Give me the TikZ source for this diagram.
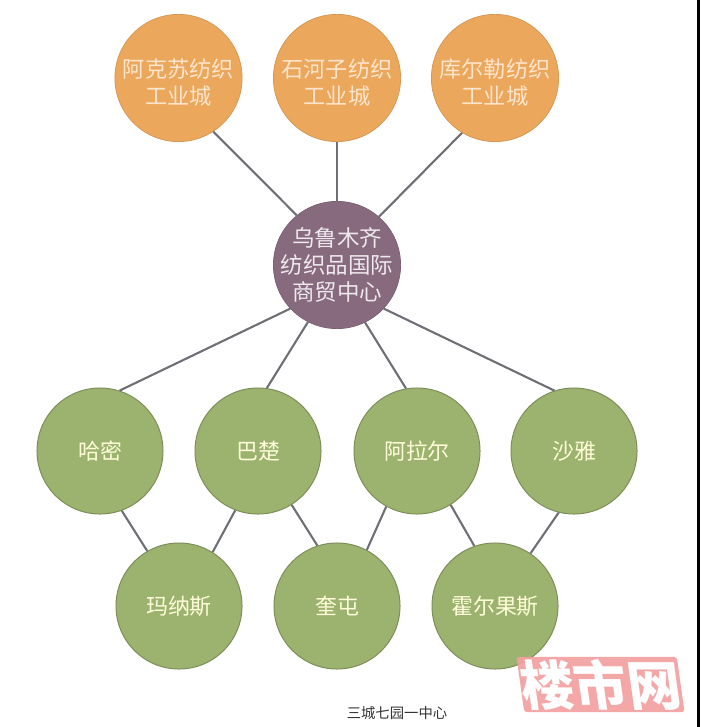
\documentclass[tikz,border=0pt]{standalone}
\usepackage{fontspec}
\newfontfamily\cjk{Noto Sans CJK SC}
\definecolor{cityorange}{HTML}{EBA75C}
\definecolor{hubpurple}{HTML}{876A7E}
\definecolor{parkgreen}{HTML}{9CB26F}
\definecolor{linkgrey}{HTML}{6E7076}
\definecolor{stamppink}{HTML}{F3A0A0}
\tikzset{
  city/.style={circle,draw=cityorange!90!black,fill=cityorange,line width=0.5pt,minimum size=3.18cm,inner sep=-0.8cm,align=center,text=white!80!orange,font=\cjk\fontsize{15.8}{19}\selectfont},
  hub/.style={circle,draw=hubpurple!90!black,fill=hubpurple,line width=0.5pt,minimum size=3.18cm,inner sep=-0.8cm,align=center,text=white!85!hubpurple,font=\cjk\fontsize{16}{19.2}\selectfont},
  park/.style={circle,draw=parkgreen!80!black,fill=parkgreen,line width=0.7pt,minimum size=3.15cm,inner sep=-0.8cm,align=center,text=white!85!yellow,font=\cjk\fontsize{15.6}{19}\selectfont},
  link/.style={draw=linkgrey,line width=1.5pt},
  caption/.style={font=\cjk\fontsize{10.2}{12}\selectfont,text=black!80},
  stamp/.style={fill=stamppink,fill opacity=0.92,text opacity=1,text=white,rounded corners=2pt,minimum width=3.95cm,minimum height=1.38cm,inner sep=0pt,font=\cjk\bfseries\fontsize{38}{38}\selectfont}
}
\begin{document}
\begin{tikzpicture}[x=0.025cm,y=-0.025cm]
\useasboundingbox (0,0) rectangle (700,727);
\fill[black] (696.7,0) rectangle (699.7,727);
%circles
\node[hub] (wulumuqi) at (337,265) {乌鲁木齐\\纺织品国际\\商贸中心};
\foreach\n/\x/\t in {akesu/178.5/阿克苏,shihezi/337/石河子,kuerle/495/库尔勒} {
  \node[city] (\n) at (\x,78) {\rule{0pt}{0.68cm}\t 纺织\\工业城};
}
\foreach\n/\x/\t in {hami/100/哈密,bachu/258/巴楚,alaer/417/阿拉尔,shaya/574/沙雅} {
  \node[park] (\n) at (\x,451) {\t};
}
\foreach\n/\x/\t in {manasi/179/玛纳斯,kuitun/337/奎屯,huoerguosi/495/霍尔果斯} {
  \node[park] (\n) at (\x,606) {\t};
}
%links
\foreach\a/\i/\b/\j in {akesu/303/wulumuqi/129,shihezi/270/wulumuqi/90,kuerle/239/wulumuqi/49,
  wulumuqi/223/hami/72,wulumuqi/243/bachu/82,wulumuqi/296/alaer/100,wulumuqi/317/shaya/108,
  hami/290/manasi/120,bachu/249/manasi/58,bachu/302/kuitun/108,alaer/241/kuitun/62,alaer/302/huoerguosi/109,shaya/256/huoerguosi/56} {
  \draw[link] (\a.\i) -- (\b.\j);
}
%text below
\node[caption] (title) at (397,713) {三城七园一中心};
\node[stamp,xslant=-0.14,transform shape] (mark) at (600.5,684.5) {楼市网};
\end{tikzpicture}
\end{document}
